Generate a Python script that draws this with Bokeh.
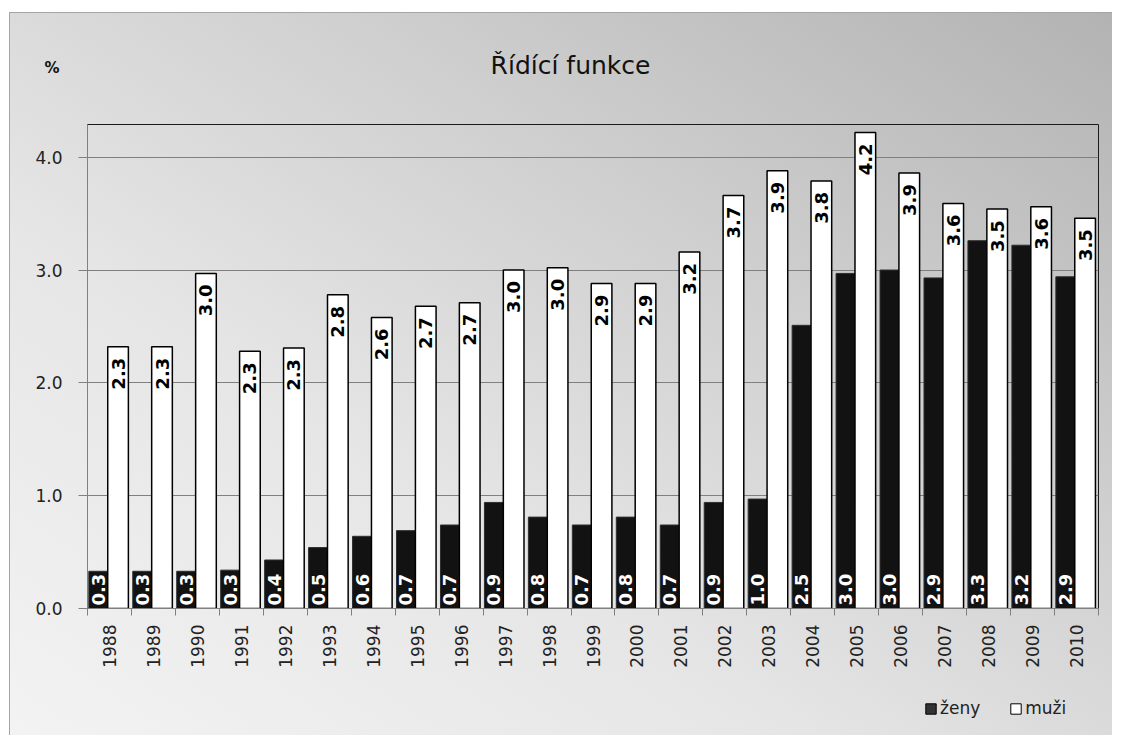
from math import pi
from bokeh.plotting import figure
from bokeh.layouts import column
from bokeh.models import (ColumnDataSource, Range1d, FixedTicker, NumeralTickFormatter,
                          Label, Legend, LegendItem)
from bokeh.core.properties import value
from bokeh.embed import file_html
from bokeh.resources import INLINE

# ---- data ----
years = ["1988", "1989", "1990", "1991", "1992", "1993", "1994", "1995", "1996", "1997",
         "1998", "1999", "2000", "2001", "2002", "2003", "2004", "2005", "2006", "2007",
         "2008", "2009", "2010"]
zeny = [0.33, 0.33, 0.33, 0.34, 0.43, 0.54, 0.64, 0.69, 0.74, 0.94,
        0.81, 0.74, 0.81, 0.74, 0.94, 0.97, 2.51, 2.97, 3.00, 2.93,
        3.26, 3.22, 2.94]
muzi = [2.32, 2.32, 2.97, 2.28, 2.31, 2.78, 2.58, 2.68, 2.71, 3.00,
        3.02, 2.88, 2.88, 3.16, 3.66, 3.88, 3.79, 4.22, 3.86, 3.59,
        3.54, 3.56, 3.46]
y_ticks = [0, 1, 2, 3, 4]
series_names = ["ženy", "muži"]
title_text = "Řídící funkce"
unit_text = "%"

FONT = "DejaVu Sans"
ZENY_FILL = "#121212"
ZENY_LINE = "#2e2e2e"
MUZI_FILL = "#ffffff"
W = 1112
n = len(years)
centers = [i + 0.5 for i in range(n)]


def bare(fig):
    fig.background_fill_alpha = 0
    fig.border_fill_alpha = 0
    fig.outline_line_color = None
    fig.min_border_left = 0
    fig.min_border_right = 0
    fig.min_border_top = 0
    fig.min_border_bottom = 0
    fig.grid.visible = False
    return fig


# ---- header (title and unit) ----
header = bare(figure(width=W, height=122, x_range=Range1d(0, 1), y_range=Range1d(0, 1),
                     output_backend="svg", toolbar_location=None, x_axis_type=None))
header.min_border_top = 12
hy = header.yaxis[0]
hy.ticker = FixedTicker(ticks=[])
hy.axis_line_color = None
hy.major_tick_line_color = None
hy.minor_tick_line_color = None
hy.major_tick_out = 0
hy.axis_label = unit_text
hy.axis_label_orientation = "horizontal"
hy.axis_label_standoff = 28
hy.axis_label_text_font = FONT
hy.axis_label_text_font_style = "bold"
hy.axis_label_text_font_size = "15px"
hy.axis_label_text_color = "#111111"
header.add_layout(Label(x=483, y=57, x_units="screen", y_units="screen", text=title_text,
                        text_align="center", text_baseline="middle", text_font=FONT,
                        text_font_size="25px", text_color="#111111"))

# ---- main chart ----
src = ColumnDataSource(dict(
    xz=[c - 0.255 for c in centers],
    xm=[c + 0.195 for c in centers],
    zeny=zeny,
    muzi=muzi,
    lz=[f"{v:.1f}" for v in zeny],
    lm=[f"{v:.1f}" for v in muzi],
    base=[0.0] * n,
))

p = figure(width=W, height=576, x_range=Range1d(0, n), y_range=Range1d(0, 4.29),
           output_backend="svg", toolbar_location=None,
           min_border_left=87, min_border_right=14, min_border_top=2, min_border_bottom=90)
p.background_fill_alpha = 0
p.border_fill_alpha = 0
p.outline_line_color = "#1a1a1a"
p.outline_line_width = 1

xa = p.xaxis[0]
xa.ticker = FixedTicker(ticks=centers, minor_ticks=list(range(n + 1)))
xa.major_label_overrides = {c: y for c, y in zip(centers, years)}
xa.major_tick_out = 0
xa.major_tick_in = 0
xa.minor_tick_out = 7
xa.minor_tick_in = 0
xa.minor_tick_line_color = "#808080"
xa.axis_line_color = "#808080"
xa.major_label_orientation = pi / 2
xa.major_label_standoff = 9
xa.major_label_text_font = FONT
xa.major_label_text_font_size = "17px"
xa.major_label_text_color = "#222222"

ya = p.yaxis[0]
ya.ticker = FixedTicker(ticks=y_ticks)
ya.formatter = NumeralTickFormatter(format="0.0")
ya.major_tick_out = 9
ya.major_tick_in = 0
ya.minor_tick_line_color = None
ya.major_tick_line_color = "#808080"
ya.axis_line_color = "#808080"
ya.major_label_standoff = 16
ya.major_label_text_font = FONT
ya.major_label_text_font_size = "17px"
ya.major_label_text_color = "#222222"

p.xgrid.visible = False
p.ygrid.ticker = FixedTicker(ticks=y_ticks[1:])
p.ygrid.grid_line_color = "#808080"
p.ygrid.grid_line_width = 1

p.vbar(x="xz", top="zeny", width=0.43, source=src,
       fill_color=ZENY_FILL, line_color=ZENY_LINE, line_width=1)
p.vbar(x="xm", top="muzi", width=0.47, source=src,
       fill_color=MUZI_FILL, line_color="#000000", line_width=1.5)

p.text(x="xm", y="muzi", text="lm", source=src, angle=pi / 2,
       text_align="right", text_baseline="middle", y_offset=11,
       text_font=value(FONT), text_font_style="bold", text_font_size="18px",
       text_color="#000000")
p.text(x="xz", y="base", text="lz", source=src, angle=pi / 2,
       text_align="left", text_baseline="middle", y_offset=-3,
       text_font=value(FONT), text_font_style="bold", text_font_size="18px",
       text_color="#ffffff")

# ---- footer (legend) ----
footer = bare(figure(width=W, height=37, x_range=Range1d(0, 1), y_range=Range1d(0, 1),
                     output_backend="svg", toolbar_location=None,
                     x_axis_type=None, y_axis_type=None))
# legend swatches only: a single NaN point, so nothing is drawn in the plot area
nan = float("nan")
gz = footer.vbar(x=[nan], top=[nan], width=0.5, fill_color="#333333", line_color="#000000")
gm = footer.vbar(x=[nan], top=[nan], width=0.5, fill_color=MUZI_FILL, line_color="#000000")
legend = Legend(items=[LegendItem(label=series_names[0], renderers=[gz]),
                       LegendItem(label=series_names[1], renderers=[gm])],
                orientation="horizontal", location=(837, 17),
                glyph_width=13, glyph_height=13, label_standoff=3, spacing=29,
                padding=0, margin=0, label_height=20,
                label_text_font=FONT, label_text_font_size="17px",
                label_text_color="#222222",
                background_fill_alpha=0, border_line_alpha=0)
footer.add_layout(legend)

layout = column(header, p, footer, spacing=0)
layout.styles = {"background": (
    "linear-gradient(#a5a5a5,#a5a5a5) 9px 12px / 100% 1px no-repeat, "
    "linear-gradient(#a5a5a5,#a5a5a5) 9px 12px / 1px 100% no-repeat, "
    "linear-gradient(#ffffff,#ffffff) 0 0 / 100% 12px no-repeat, "
    "linear-gradient(#ffffff,#ffffff) 0 0 / 9px 100% no-repeat, "
    "linear-gradient(to top right, #f3f3f3 0%, #e6e6e6 35%, #cfcfcf 65%, #b2b2b2 100%)")}

open("out.html", "w").write(file_html(layout, INLINE))
